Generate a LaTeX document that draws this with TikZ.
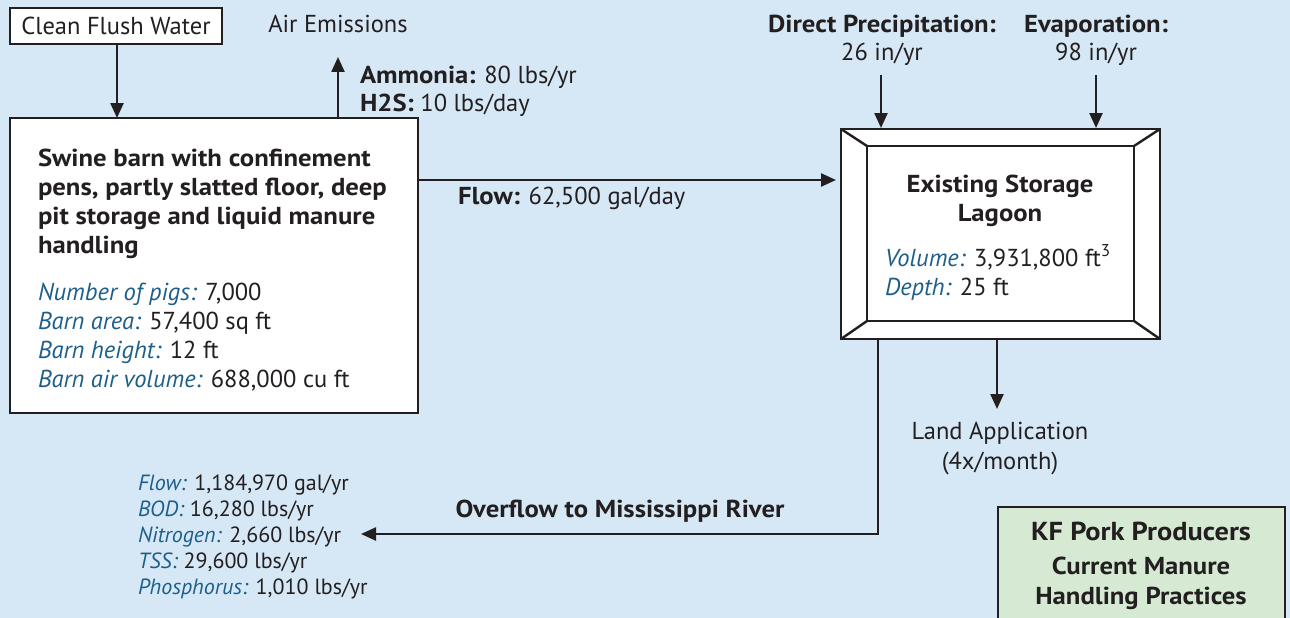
\documentclass[tikz,border=0pt]{standalone}
\usepackage{fontspec}
\setmainfont{PT Sans}[BoldFeatures={FakeStretch=1.09}]
\usetikzlibrary{arrows.meta}
\definecolor{bg}{HTML}{D6E8F6}
\definecolor{ink}{HTML}{231F20}
\definecolor{lbl}{HTML}{1D5F8A}
\definecolor{kf}{HTML}{D6EAD3}
\begin{document}
\begin{tikzpicture}[x=1pt,y=-1pt,
  every node/.style={text=ink,inner sep=0pt,outer sep=0pt},
  txt/.style={font=\fontsize{24.5}{29}\selectfont},
  btxt/.style={font=\fontsize{24.5}{29}\selectfont\bfseries},
  sm/.style={font=\fontsize{22}{26}\selectfont},
  line/.style={draw=ink,line width=2.4pt},
  arr/.style={line,-{Triangle[length=15pt,width=13pt]}},
  boxframe/.style={draw=ink,line width=2.6pt,fill=white}]
\fill[bg] (0,0) rectangle (1290,618);
\useasboundingbox (0,0) rectangle (1290,618);
% boxes
\node[boxframe,minimum width=212pt,minimum height=36pt,anchor=north west,txt] (flush) at (10,8) {Clean Flush Water};
\node[boxframe,minimum width=408pt,minimum height=295pt,anchor=north west] (barn) at (10,118) {};
% barn text
\node[anchor=base west,btxt] (b1) at (38,166) {Swine barn with confinement};
\node[anchor=base west,btxt] (b2) at (38,195) {pens, partly slatted floor, deep};
\node[anchor=base west,btxt] (b3) at (38,224) {pit storage and liquid manure};
\node[anchor=base west,btxt] (b4) at (38,253) {handling};
\node[anchor=base west,txt] (b5) at (38,300) {\textcolor{lbl}{\itshape Number of pigs:} 7,000};
\node[anchor=base west,txt] (b6) at (38,329) {\textcolor{lbl}{\itshape Barn area:} 57,400 sq ft};
\node[anchor=base west,txt] (b7) at (38,358) {\textcolor{lbl}{\itshape Barn height:} 12 ft};
\node[anchor=base west,txt] (b8) at (38,387) {\textcolor{lbl}{\itshape Barn air volume:} 688,000 cu ft};
% air emissions
\node[anchor=base,txt] (air) at (338,33) {Air Emissions};
\coordinate (airtop) at (338,57);
\coordinate (airbot) at (338,118);
\draw[arr] (airbot) -- (airtop);
\node[anchor=base west,txt] (amm) at (360,83) {\textbf{Ammonia:} 80 lbs/yr};
\node[anchor=base west,txt] (h2s) at (360,111) {\textbf{H2S:} 10 lbs/day};
% flush arrow
\coordinate (fl) at (117,44);
\coordinate (fb) at (117,118);
\draw[arr] (fl) -- (fb);
% lagoon
\coordinate (o1) at (841,129); \coordinate (o2) at (1160,129);
\coordinate (o3) at (1160,339); \coordinate (o4) at (841,339);
\coordinate (i1) at (867,146); \coordinate (i2) at (1134,146);
\coordinate (i3) at (1134,321); \coordinate (i4) at (867,321);
\draw[line,line width=2.8pt,fill=white,line join=miter] (o1) -- (o2) -- (o3) -- (o4) -- cycle;
\draw[line] (i1) -- (i2) -- (i3) -- (i4) -- cycle;
\draw[line] (o1) -- (i1) (o2) -- (i2) (o3) -- (i3) (o4) -- (i4);
\node[anchor=base,btxt] (lag1) at (1000,192) {Existing Storage};
\node[anchor=base,btxt] (lag2) at (1000,221) {Lagoon};
\node[anchor=base west,txt] (vol) at (885,266) {\textcolor{lbl}{\itshape Volume:} 3,931,800 ft\textsuperscript{3}};
\node[anchor=base west,txt] (dep) at (885,295) {\textcolor{lbl}{\itshape Depth:} 25 ft};
% flow
\coordinate (flowin) at (836,180);
\draw[arr] (barn.east |- flowin) -- (flowin);
\node[anchor=base west,txt] (flowlbl) at (458,204) {\textbf{Flow:} 62,500 gal/day};
% precipitation/evaporation
\node[anchor=base,btxt] (dp) at (882,33) {Direct Precipitation:};
\node[anchor=base,txt] (dpv) at (882,61) {26 in/yr};
\node[anchor=base,btxt] (ev) at (1096,33) {Evaporation:};
\node[anchor=base,txt] (evv) at (1096,61) {98 in/yr};
\coordinate (dpa) at (881,75); \coordinate (dpb) at (881,128);
\coordinate (eva) at (1096,75); \coordinate (evb) at (1096,128);
\draw[arr] (dpa) -- (dpb);
\draw[arr] (eva) -- (evb);
% land application
\coordinate (la) at (997,339); \coordinate (lb) at (997,409);
\draw[arr] (la) -- (lb);
\node[anchor=base,txt] (land1) at (1000,439) {Land Application};
\node[anchor=base,txt] (land2) at (1000,469) {(4x/month)};
% overflow
\coordinate (ova) at (878,339); \coordinate (ovb) at (878,534); \coordinate (ovc) at (361,534);
\draw[arr] (ova) -- (ovb) -- (ovc);
\node[anchor=base,btxt] (ovl) at (620,517) {Overflow to Mississippi River};
% list
\node[anchor=base west,sm] (l1) at (138,490) {\textcolor{lbl}{\itshape Flow:} 1,184,970 gal/yr};
\node[anchor=base west,sm] (l2) at (138,516) {\textcolor{lbl}{\itshape BOD:} 16,280 lbs/yr};
\node[anchor=base west,sm] (l3) at (138,542) {\textcolor{lbl}{\itshape Nitrogen:} 2,660 lbs/yr};
\node[anchor=base west,sm] (l4) at (138,568) {\textcolor{lbl}{\itshape TSS:} 29,600 lbs/yr};
\node[anchor=base west,sm] (l5) at (138,594) {\textcolor{lbl}{\itshape Phosphorus:} 1,010 lbs/yr};
% KF box
\fill[kf,draw=ink,line width=2.2pt] (998,507) rectangle (1285,625);
\node[anchor=base,font=\fontsize{26}{29}\selectfont\bfseries] (kf1) at (1141,540) {KF Pork Producers};
\node[anchor=base,btxt] (kf2) at (1141,574) {Current Manure};
\node[anchor=base,btxt] (kf3) at (1141,604) {Handling Practices};
\end{tikzpicture}
\end{document}
